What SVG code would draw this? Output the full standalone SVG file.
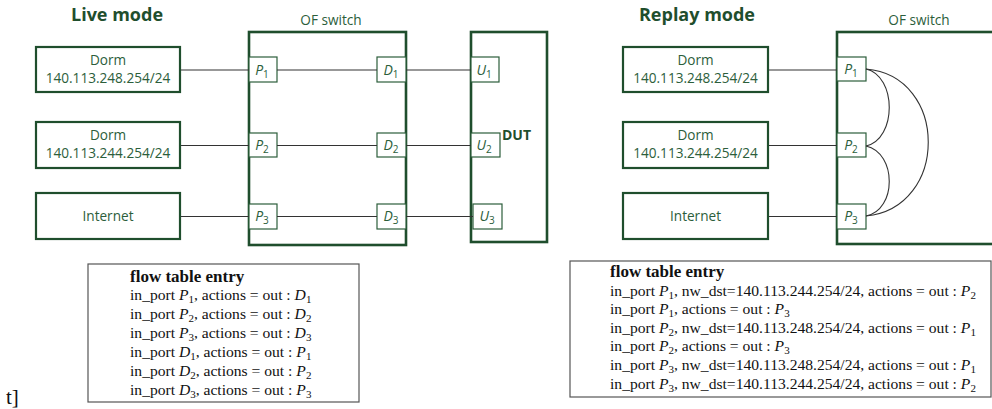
<svg xmlns="http://www.w3.org/2000/svg" width="992" height="409" viewBox="0 0 992 409">
<style>
.bg{fill:#ffffff}
.box{fill:#ffffff;stroke:#1f4e2d;stroke-width:2.2}
.sw{fill:#ffffff;stroke:#1f4e2d;stroke-width:2.6}
.port{fill:#ffffff;stroke:#2c5e3b;stroke-width:1.2}
.lbl{font-family:"Open Sans","Noto Sans",sans-serif;font-size:13.6px;fill:#2c5e3b;text-anchor:middle}
.ttl{font-family:"Open Sans","Noto Sans",sans-serif;font-size:18px;font-weight:bold;fill:#1f4e2d;text-anchor:middle}
.dut{font-family:"Open Sans","Noto Sans",sans-serif;font-size:14px;font-weight:bold;fill:#1f4e2d}
.pl{font-family:"Open Sans","Noto Sans",sans-serif;font-size:14px;fill:#2c5e3b;text-anchor:middle}
.pl .s{font-size:10px;font-style:normal}
.it{font-style:italic}
.conn{fill:none;stroke:#333333;stroke-width:1.1}
.tb{fill:#ffffff;stroke:#555555;stroke-width:1.2}
.tt{font-family:"Liberation Serif","Times New Roman",serif;font-size:15.6px;fill:#111111}
.th{font-family:"Liberation Serif","Times New Roman",serif;font-size:17px;font-weight:bold;fill:#111111}
.tt .s{font-size:11px}
</style>
<rect class="bg" x="0" y="0" width="992" height="409"/>

<!-- titles -->
<text class="ttl" x="117" y="21">Live mode</text>
<text class="ttl" x="697" y="21">Replay mode</text>

<!-- Live mode: left nodes -->
<g id="live-dorm1">
  <rect class="box" x="36" y="47" width="144" height="45"/>
  <text class="lbl" x="108" y="64.5">Dorm</text>
  <text class="lbl" x="108" y="83">140.113.248.254/24</text>
</g>
<g id="live-dorm2">
  <rect class="box" x="36" y="122" width="144" height="46"/>
  <text class="lbl" x="108" y="139.5">Dorm</text>
  <text class="lbl" x="108" y="158">140.113.244.254/24</text>
</g>
<g id="live-internet">
  <rect class="box" x="36" y="193" width="144" height="46"/>
  <text class="lbl" x="108" y="221">Internet</text>
</g>

<!-- Live mode: OF switch -->
<g id="live-switch">
  <text class="lbl" x="331" y="25">OF switch</text>
  <rect class="sw" x="249" y="32" width="157" height="213"/>
  <g id="live-P1"><rect class="port" x="249" y="57" width="28" height="25"/><text class="pl" x="262" y="75"><tspan class="it">P</tspan><tspan class="s" dy="3">1</tspan></text></g>
  <g id="live-P2"><rect class="port" x="249" y="133" width="28" height="24"/><text class="pl" x="262" y="150"><tspan class="it">P</tspan><tspan class="s" dy="3">2</tspan></text></g>
  <g id="live-P3"><rect class="port" x="249" y="204" width="28" height="25"/><text class="pl" x="262" y="221"><tspan class="it">P</tspan><tspan class="s" dy="3">3</tspan></text></g>
  <g id="live-D1"><rect class="port" x="377" y="57" width="29" height="25"/><text class="pl" x="391" y="75"><tspan class="it">D</tspan><tspan class="s" dy="3">1</tspan></text></g>
  <g id="live-D2"><rect class="port" x="377" y="133" width="29" height="24"/><text class="pl" x="391" y="150"><tspan class="it">D</tspan><tspan class="s" dy="3">2</tspan></text></g>
  <g id="live-D3"><rect class="port" x="377" y="204" width="29" height="25"/><text class="pl" x="391" y="221"><tspan class="it">D</tspan><tspan class="s" dy="3">3</tspan></text></g>
</g>

<!-- DUT -->
<g id="dut">
  <rect class="sw" x="471" y="32" width="76" height="210"/>
  <text class="dut" x="502" y="140">DUT</text>
  <g id="dut-U1"><rect class="port" x="471" y="57" width="28" height="25"/><text class="pl" x="484" y="75"><tspan class="it">U</tspan><tspan class="s" dy="3">1</tspan></text></g>
  <g id="dut-U2"><rect class="port" x="471" y="133" width="29" height="24"/><text class="pl" x="484" y="150"><tspan class="it">U</tspan><tspan class="s" dy="3">2</tspan></text></g>
  <g id="dut-U3"><rect class="port" x="473" y="204" width="29" height="25"/><text class="pl" x="487" y="221"><tspan class="it">U</tspan><tspan class="s" dy="3">3</tspan></text></g>
</g>

<!-- Replay mode: left nodes -->
<g id="replay-dorm1">
  <rect class="box" x="623" y="47" width="145" height="45"/>
  <text class="lbl" x="695.5" y="64.5">Dorm</text>
  <text class="lbl" x="695.5" y="83">140.113.248.254/24</text>
</g>
<g id="replay-dorm2">
  <rect class="box" x="623" y="122" width="145" height="46"/>
  <text class="lbl" x="695.5" y="139.5">Dorm</text>
  <text class="lbl" x="695.5" y="158">140.113.244.254/24</text>
</g>
<g id="replay-internet">
  <rect class="box" x="623" y="193" width="145" height="46"/>
  <text class="lbl" x="695.5" y="221">Internet</text>
</g>

<!-- Replay mode: OF switch -->
<g id="replay-switch">
  <text class="lbl" x="919" y="25">OF switch</text>
  <rect class="sw" x="837" y="32" width="170" height="212"/>
  <g id="replay-P1"><rect class="port" x="837" y="57" width="29" height="24"/><text class="pl" x="851" y="74"><tspan class="it">P</tspan><tspan class="s" dy="3">1</tspan></text></g>
  <g id="replay-P2"><rect class="port" x="837" y="133" width="29" height="24"/><text class="pl" x="851" y="150"><tspan class="it">P</tspan><tspan class="s" dy="3">2</tspan></text></g>
  <g id="replay-P3"><rect class="port" x="837" y="204" width="29" height="25"/><text class="pl" x="851" y="221"><tspan class="it">P</tspan><tspan class="s" dy="3">3</tspan></text></g>
</g>

<!-- connectors -->
<g id="connectors">
  <line class="conn" x1="181" y1="70" x2="249" y2="70"/>
  <line class="conn" x1="277" y1="70" x2="377" y2="70"/>
  <line class="conn" x1="406" y1="70" x2="471" y2="70"/>
  <line class="conn" x1="181" y1="145.5" x2="249" y2="145.5"/>
  <line class="conn" x1="277" y1="145.5" x2="377" y2="145.5"/>
  <line class="conn" x1="406" y1="145.5" x2="471" y2="145.5"/>
  <line class="conn" x1="181" y1="216.5" x2="249" y2="216.5"/>
  <line class="conn" x1="277" y1="216.5" x2="377" y2="216.5"/>
  <line class="conn" x1="406" y1="216.5" x2="473" y2="216.5"/>
  <line class="conn" x1="769" y1="70" x2="837" y2="70"/>
  <line class="conn" x1="769" y1="145.5" x2="837" y2="145.5"/>
  <line class="conn" x1="769" y1="216.5" x2="837" y2="216.5"/>
  <path class="conn" d="M866,69 C897,76 897,139 866,146"/>
  <path class="conn" d="M866,146 C897,153 897,210 866,216"/>
  <path class="conn" d="M866,69 C949,76 949,208 866,216"/>
</g>

<!-- stray text -->
<text class="tt" x="6" y="404" style="font-size:21px">t]</text>

<!-- Live flow table -->
<g id="live-table">
  <rect class="tb" x="88" y="264" width="271" height="138"/>
  <text class="th" x="130" y="282">flow table entry</text>
  <text class="tt" x="130" y="300">in_port <tspan class="it">P</tspan><tspan class="s" dy="3">1</tspan><tspan dy="-3">, actions = out : </tspan><tspan class="it">D</tspan><tspan class="s" dy="3">1</tspan></text>
  <text class="tt" x="130" y="319">in_port <tspan class="it">P</tspan><tspan class="s" dy="3">2</tspan><tspan dy="-3">, actions = out : </tspan><tspan class="it">D</tspan><tspan class="s" dy="3">2</tspan></text>
  <text class="tt" x="130" y="338">in_port <tspan class="it">P</tspan><tspan class="s" dy="3">3</tspan><tspan dy="-3">, actions = out : </tspan><tspan class="it">D</tspan><tspan class="s" dy="3">3</tspan></text>
  <text class="tt" x="130" y="357">in_port <tspan class="it">D</tspan><tspan class="s" dy="3">1</tspan><tspan dy="-3">, actions = out : </tspan><tspan class="it">P</tspan><tspan class="s" dy="3">1</tspan></text>
  <text class="tt" x="130" y="376">in_port <tspan class="it">D</tspan><tspan class="s" dy="3">2</tspan><tspan dy="-3">, actions = out : </tspan><tspan class="it">P</tspan><tspan class="s" dy="3">2</tspan></text>
  <text class="tt" x="130" y="395">in_port <tspan class="it">D</tspan><tspan class="s" dy="3">3</tspan><tspan dy="-3">, actions = out : </tspan><tspan class="it">P</tspan><tspan class="s" dy="3">3</tspan></text>
</g>

<!-- Replay flow table -->
<g id="replay-table">
  <rect class="tb" x="570" y="261" width="421" height="136"/>
  <text class="th" x="610" y="277">flow table entry</text>
  <text class="tt" x="610" y="296">in_port <tspan class="it">P</tspan><tspan class="s" dy="3">1</tspan><tspan dy="-3">, nw_dst=140.113.244.254/24, actions = out : </tspan><tspan class="it">P</tspan><tspan class="s" dy="3">2</tspan></text>
  <text class="tt" x="610" y="314">in_port <tspan class="it">P</tspan><tspan class="s" dy="3">1</tspan><tspan dy="-3">, actions = out : </tspan><tspan class="it">P</tspan><tspan class="s" dy="3">3</tspan></text>
  <text class="tt" x="610" y="333">in_port <tspan class="it">P</tspan><tspan class="s" dy="3">2</tspan><tspan dy="-3">, nw_dst=140.113.248.254/24, actions = out : </tspan><tspan class="it">P</tspan><tspan class="s" dy="3">1</tspan></text>
  <text class="tt" x="610" y="351">in_port <tspan class="it">P</tspan><tspan class="s" dy="3">2</tspan><tspan dy="-3">, actions = out : </tspan><tspan class="it">P</tspan><tspan class="s" dy="3">3</tspan></text>
  <text class="tt" x="610" y="370">in_port <tspan class="it">P</tspan><tspan class="s" dy="3">3</tspan><tspan dy="-3">, nw_dst=140.113.248.254/24, actions = out : </tspan><tspan class="it">P</tspan><tspan class="s" dy="3">1</tspan></text>
  <text class="tt" x="610" y="389">in_port <tspan class="it">P</tspan><tspan class="s" dy="3">3</tspan><tspan dy="-3">, nw_dst=140.113.244.254/24, actions = out : </tspan><tspan class="it">P</tspan><tspan class="s" dy="3">2</tspan></text>
</g>
</svg>
